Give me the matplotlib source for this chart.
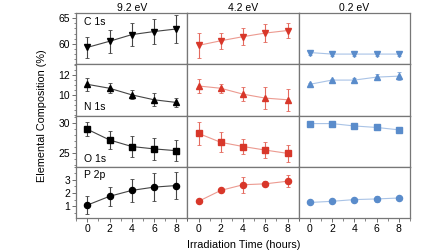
import matplotlib
matplotlib.use("Agg")
import matplotlib.pyplot as plt
import numpy as np
from matplotlib.ticker import MultipleLocator

plt.rcParams['font.family'] = ['Liberation Sans', 'DejaVu Sans']

hours = [0, 2, 4, 6, 8]
energies = ["9.2 eV", "4.2 eV", "0.2 eV"]
elements = ["C 1s", "N 1s", "O 1s", "P 2p"]

# values per element: one list per energy (9.2, 4.2, 0.2 eV)
c1s = [[59.3, 60.5, 61.8, 62.4, 62.9],
       [59.7, 60.6, 61.4, 62.1, 62.6],
       [58.3, 58.0, 58.0, 58.0, 58.0]]
c1s_err = [[2.0, 2.2, 2.2, 2.5, 2.7],
           [2.4, 1.6, 1.6, 1.7, 1.5],
           [0.4, 0.3, 0.3, 0.4, 0.3]]
n1s = [[11.07, 10.67, 10.0, 9.5, 9.23],
       [10.9, 10.67, 10.07, 9.67, 9.5],
       [11.07, 11.5, 11.5, 11.8, 11.9]]
n1s_err = [[0.67, 0.5, 0.45, 0.65, 0.45],
           [0.75, 0.45, 0.7, 1.15, 1.1],
           [0.1, 0.15, 0.2, 0.3, 0.4]]
o1s = [[29.0, 27.2, 26.1, 25.7, 25.4],
       [28.3, 26.8, 26.1, 25.5, 24.95],
       [29.95, 29.95, 29.55, 29.3, 28.9]]
o1s_err = [[1.2, 1.5, 1.75, 1.8, 1.8],
           [1.9, 1.7, 1.2, 1.3, 1.4],
           [0.15, 0.15, 0.15, 0.15, 0.15]]
p2p = [[1.08, 1.75, 2.2, 2.45, 2.57],
       [1.37, 2.2, 2.63, 2.7, 2.9],
       [1.28, 1.37, 1.5, 1.55, 1.62]]
p2p_err = [[0.7, 0.7, 0.88, 1.05, 1.04],
           [0.05, 0.1, 0.6, 0.2, 0.45],
           [0.05, 0.08, 0.1, 0.2, 0.1]]

values = [c1s, n1s, o1s, p2p]
errors = [c1s_err, n1s_err, o1s_err, p2p_err]
markers = ["v", "^", "s", "o"]
msizes = [4.0, 4.0, 4.4, 4.4]
ylims = [(56, 66), (7.9, 13.1), (22.7, 31.3), (0.1, 4.0)]
yticks = [[60, 65], [10, 12], [25, 30], [1, 2, 3]]
yminor = [1, 0.5, 1, 0.5]
label_top = [True, False, False, True]

mark_colors = ["black", "#d8372a", "#5a8ccb"]
line_colors = ["#444444", "#ec9a90", "#a9c3e6"]
err_colors = ["#444444", "#e46a5e", "#7fa5d8"]
frame = "#777777"

fig, axes = plt.subplots(4, 3, figsize=(4.48, 2.52), dpi=100, sharex=True)
fig.subplots_adjust(left=0.170, right=0.915, top=0.948, bottom=0.135,
                    hspace=0, wspace=0)

for r in range(4):
    for c in range(3):
        ax = axes[r, c]
        ax.errorbar(hours, values[r][c], yerr=errors[r][c], fmt="none",
                    ecolor=err_colors[c], elinewidth=0.8, capsize=1.2,
                    capthick=0.6, zorder=2)
        ax.plot(hours, values[r][c], color=line_colors[c], lw=0.8, zorder=3)
        ax.plot(hours, values[r][c], ls="none", marker=markers[r],
                ms=msizes[r], color=mark_colors[c], zorder=4)
        ax.set_xlim(-1, 9)
        ax.set_ylim(*ylims[r])
        for s in ax.spines.values():
            s.set_color(frame)
            s.set_linewidth(0.9)
        ax.tick_params(axis="both", which="both", direction="out",
                       labelsize=7.5, colors="#555555", labelcolor="black",
                       pad=1.5)
        ax.tick_params(which="major", length=3, width=0.6)
        ax.tick_params(which="minor", length=1.8, width=0.5)
        if c == 0:
            ax.set_yticks(yticks[r])
            ax.yaxis.set_minor_locator(MultipleLocator(yminor[r]))
            if label_top[r]:
                ax.text(0.07, 0.93, elements[r], transform=ax.transAxes,
                        fontsize=7.5, va="top", ha="left")
            else:
                ax.text(0.07, 0.06, elements[r], transform=ax.transAxes,
                        fontsize=7.5, va="bottom", ha="left")
        else:
            ax.set_yticks([])
        if r == 3:
            ax.set_xticks(hours)
            ax.xaxis.set_minor_locator(MultipleLocator(1))
        else:
            ax.tick_params(axis="x", which="both", length=0)
        if r == 0:
            ax.set_title(energies[c], fontsize=7.5, pad=1.5)

fig.text(0.093, 0.54, "Elemental Composition (%)", rotation=90,
         ha="center", va="center", fontsize=7.8)
fig.text(0.543, 0.026, "Irradiation Time (hours)", ha="center",
         va="center", fontsize=7.8)

fig.savefig("out.png", dpi=100)
